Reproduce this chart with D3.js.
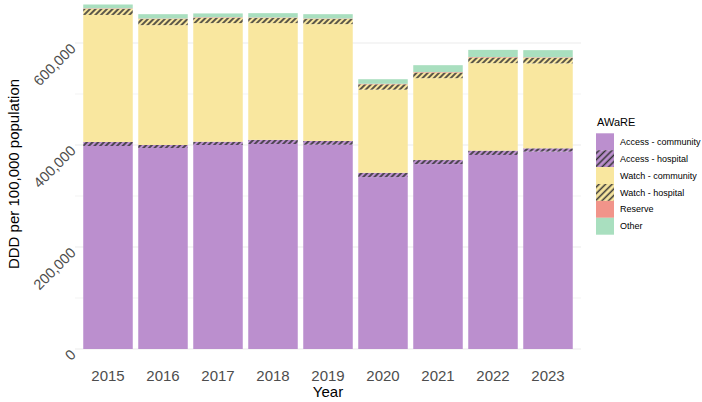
<!DOCTYPE html>
<html>
<head>
<meta charset="utf-8">
<script src="https://cdn.jsdelivr.net/npm/d3@7"></script>
<style>
	body { margin: 0; background: #fff; }
	svg { font-family: "Liberation Sans", Arial, sans-serif; }
</style>
</head>
<body>
<div id="chart"></div>
<script>
(function (){
	"use strict";

// data
var years = ["2015", "2016", "2017", "2018", "2019", "2020", "2021", "2022", "2023"];
var accessCommunity = [398000, 394000, 400000, 402000, 400500, 337000, 362500, 380500, 387000];
var accessHospital = [8000, 6000, 6500, 8000, 7500, 8500, 8000, 8500, 6500];
var watchCommunity = [249000, 235000, 232500, 229000, 229000, 163000, 160500, 171500, 166500];
var watchHospital = [12000, 12000, 10500, 10000, 10000, 10500, 11000, 11000, 11000];
var reserve = [1000, 1000, 1000, 1000, 1000, 1000, 1000, 1000, 1000];
var other = [7500, 8500, 7500, 8500, 8500, 9000, 13500, 14000, 14000];
var groups = ["Access - community", "Access - hospital", "Watch - community", "Watch - hospital", "Reserve", "Other"];
var yTicks = [0, 200000, 400000, 600000];
var yMinor = [100000, 300000, 500000];

var width = 702,
	height = 402;

var fills = {
	"Access - community": "#BB8FCE",
	"Access - hospital": "#BB8FCE",
	"Watch - community": "#F9E79F",
	"Watch - hospital": "#F9E79F",
	"Reserve": "#F1948A",
	"Other": "#A9DFBF"
};

var series = [accessCommunity, accessHospital, watchCommunity, watchHospital, reserve, other];
var table = years.map(function(y, i) {
	var row = { year: y };
	groups.forEach(function(g, j) { row[g] = series[j][i]; });
	return row;
});

var stack = d3.stack().keys(groups)(table);

var x = d3.scaleBand()
	.domain(years)
	.range([80.5, 575.5])
	.paddingInner(0.1)
	.paddingOuter(0.05);

var y = d3.scaleLinear()
	.domain([0, 600000])
	.range([349, 43]);

var panelL = 75, panelR = 581;

var svg = d3.select("#chart").append("svg")
	.attr("width", width)
	.attr("height", height);

// stripe patterns for the hospital groups (bars + a looser one for the legend)
var defs = svg.append("defs");
function stripe(id, bg, s, w) {
	var p = defs.append("pattern")
		.attr("id", id)
		.attr("patternUnits", "userSpaceOnUse")
		.attr("width", s)
		.attr("height", s)
		.attr("patternTransform", "rotate(45)");
	p.append("rect").attr("width", s).attr("height", s).attr("fill", bg);
	p.append("line")
		.attr("x1", s / 2).attr("y1", 0)
		.attr("x2", s / 2).attr("y2", s)
		.attr("stroke", "#333")
		.attr("stroke-width", w);
}
stripe("hatchAccess", fills["Access - hospital"], 4, 1.6);
stripe("hatchWatch", fills["Watch - hospital"], 4, 1.6);
stripe("keyAccess", fills["Access - hospital"], 4.6, 1.5);
stripe("keyWatch", fills["Watch - hospital"], 4.6, 1.5);

function fillFor(g, key) {
	if (g === "Access - hospital") return key ? "url(#keyAccess)" : "url(#hatchAccess)";
	if (g === "Watch - hospital") return key ? "url(#keyWatch)" : "url(#hatchWatch)";
	return fills[g];
}

// grid
svg.append("g").selectAll("line").data(yMinor)
	.enter().append("line")
		.attr("x1", panelL).attr("x2", panelR)
		.attr("y1", function(d){ return y(d); })
		.attr("y2", function(d){ return y(d); })
		.attr("stroke", "#ebebeb")
		.attr("stroke-width", 0.6);
svg.append("g").selectAll("line").data(yTicks)
	.enter().append("line")
		.attr("x1", panelL).attr("x2", panelR)
		.attr("y1", function(d){ return y(d); })
		.attr("y2", function(d){ return y(d); })
		.attr("stroke", "#ebebeb")
		.attr("stroke-width", 1.1);

// bars
svg.append("g").selectAll("g").data(stack)
	.enter().append("g")
		.attr("fill", function(d){ return fillFor(d.key); })
	.selectAll("rect").data(function(d){ return d; })
	.enter().append("rect")
		.attr("x", function(d){ return x(d.data.year); })
		.attr("width", x.bandwidth())
		.attr("y", function(d){ return y(d[1]); })
		.attr("height", function(d){ return y(d[0]) - y(d[1]); });

// y axis labels (rotated)
var fmt = d3.format(",");
svg.append("g").selectAll("text").data(yTicks)
	.enter().append("text")
		.attr("transform", function(d){ return "translate(73," + (y(d) + 3) + ") rotate(-45)"; })
		.attr("text-anchor", "end")
		.attr("dy", "0.35em")
		.attr("fill", "#4d4d4d")
		.style("font-size", "14.5px")
		.text(function(d){ return fmt(d); });

// x axis labels
svg.append("g").selectAll("text").data(years)
	.enter().append("text")
		.attr("x", function(d){ return x(d) + x.bandwidth() / 2; })
		.attr("y", 381)
		.attr("text-anchor", "middle")
		.attr("fill", "#4d4d4d")
		.style("font-size", "15px")
		.text(function(d){ return d; });

svg.append("text")
	.attr("x", (panelL + panelR) / 2)
	.attr("y", 397)
	.attr("text-anchor", "middle")
	.style("font-size", "15px")
	.text("Year");

svg.append("text")
	.attr("transform", "translate(19,174) rotate(-90)")
	.attr("text-anchor", "middle")
	.style("font-size", "15px")
	.text("DDD per 100,000 population");

// legend
var legend = svg.append("g").attr("transform", "translate(596,0)");
legend.append("text")
	.attr("x", 1)
	.attr("y", 126)
	.style("font-size", "11px")
	.text("AWaRE");

var keyH = 16.9;
var item = legend.selectAll("g.key").data(groups)
	.enter().append("g")
		.attr("class", "key")
		.attr("transform", function(d, i){ return "translate(0," + (133.3 + i * keyH) + ")"; });
item.append("rect")
	.attr("width", 18)
	.attr("height", keyH)
	.attr("fill", function(d){ return fillFor(d, true); });
item.append("text")
	.attr("x", 24)
	.attr("y", keyH / 2)
	.attr("dy", "0.35em")
	.style("font-size", "9px")
	.text(function(d){ return d; });

})();
</script>
</body>
</html>
